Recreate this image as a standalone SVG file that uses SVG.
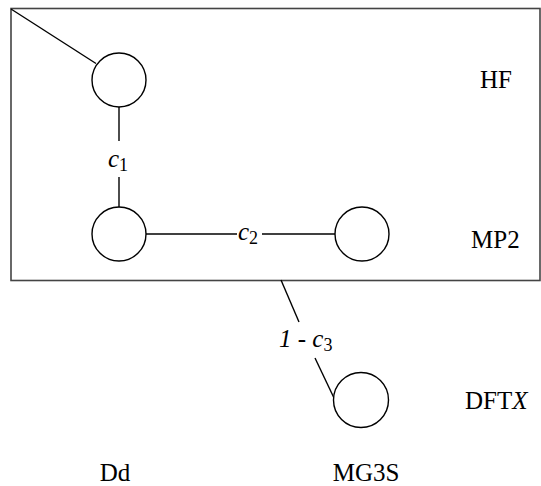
<svg xmlns="http://www.w3.org/2000/svg" width="541" height="486" viewBox="0 0 541 486">
<style>
.n{fill:#fff;stroke:#000;stroke-width:1.4}
.e{stroke:#000;stroke-width:1.4;fill:none}
.t{font-family:"Liberation Serif","Times New Roman",serif;font-size:25px;fill:#000}
.i{font-style:italic}
.s{font-size:18px}
</style>
<rect x="11" y="8.5" width="529" height="272" fill="none" stroke="#444" stroke-width="1.6"/>
<g id="connectors">
<line class="e" x1="11" y1="9" x2="96" y2="63.5"/>
<line class="e" x1="119" y1="107" x2="119" y2="141"/>
<line class="e" x1="119" y1="177" x2="119" y2="207"/>
<line class="e" x1="146" y1="234" x2="237" y2="234"/>
<line class="e" x1="262" y1="234" x2="335" y2="234"/>
<line class="e" x1="281" y1="280" x2="299" y2="322"/>
<line class="e" x1="315" y1="358" x2="334" y2="398"/>
<text class="t" x="108" y="167"><tspan class="i">c</tspan><tspan class="s" dy="4">1</tspan></text>
<text class="t" x="238" y="240"><tspan class="i">c</tspan><tspan class="s" dy="4">2</tspan></text>
<text class="t" x="279" y="347"><tspan class="i">1</tspan> - <tspan class="i">c</tspan><tspan class="s" dy="4">3</tspan></text>
</g>
<g id="n1"><circle class="n" cx="119" cy="80" r="27"/></g>
<g id="n2"><circle class="n" cx="119" cy="234" r="27"/></g>
<g id="n3"><circle class="n" cx="362" cy="234" r="27"/></g>
<g id="n4"><circle class="n" cx="361" cy="400" r="27.5"/></g>
<g id="labels">
<text class="t" x="480" y="88">HF</text>
<text class="t" x="471" y="248">MP2</text>
<text class="t" x="465" y="409">DFT<tspan class="i">X</tspan></text>
<text class="t" x="115" y="481" text-anchor="middle">Dd</text>
<text class="t" x="366" y="481" text-anchor="middle">MG3S</text>
</g>
</svg>
